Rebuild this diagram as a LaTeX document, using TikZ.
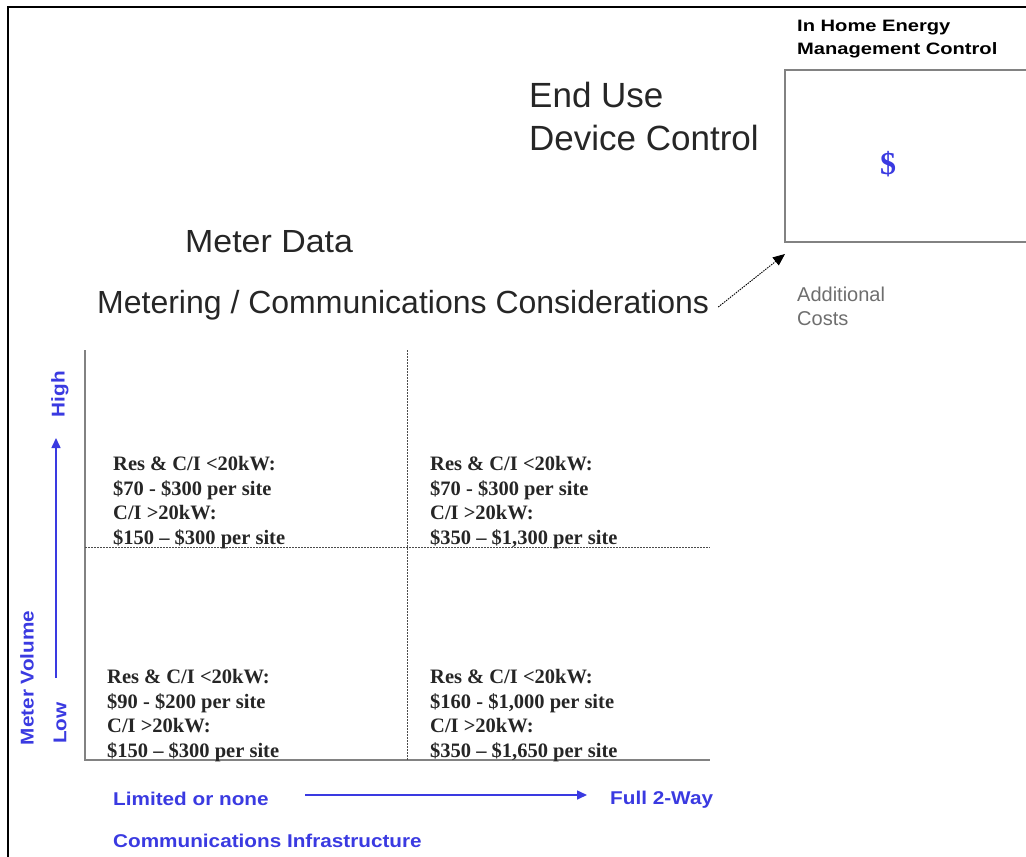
\documentclass[tikz,border=0pt]{standalone}
\usepackage{fontspec}
\setmainfont{Liberation Sans}
\newfontfamily\cellfont[Ligatures=TeX]{Liberation Serif}
\usetikzlibrary{arrows.meta,calc}
\definecolor{axisblue}{RGB}{58,58,225}
\definecolor{gridgray}{RGB}{130,130,130}
\definecolor{notegray}{RGB}{110,110,110}
\newcommand{\stretchfont}[1]{\addfontfeatures{FakeStretch=#1}}
\tikzset{
  x=1pt, y=-1pt,
  cell/.style={anchor=north west, align=left, inner sep=0pt, font=\cellfont\bfseries\fontsize{20.5}{24.6}\selectfont, text=black!85},
  axislabel/.style={inner sep=0pt, text=axisblue, font=\bfseries\fontsize{18.5}{20}\selectfont\stretchfont{1.12}},
  heading/.style={inner sep=0pt, anchor=base west, text=black!85},
  solidgrid/.style={draw=gridgray, line width=1.6pt},
  dotgrid/.style={draw=black!70, line width=0.9pt, dash pattern=on 1.5pt off 1.5pt},
}
\begin{document}
\begin{tikzpicture}
\useasboundingbox (0,0) rectangle (1026,857);
% page frame
\draw[line width=1.6pt] (8,857) -- (8,7) -- (1026,7);

% in-home control panel
\node[inner sep=0pt, anchor=north west, align=left, font=\bfseries\fontsize{16.5}{23}\selectfont\stretchfont{1.22}] (ihtitle) at (797,20) {In Home Energy\\Management Control};
\draw[draw=gridgray, line width=1.4pt] (1030,70) -- (785,70) -- (785,242) -- (1030,242);
\coordinate (boxcorner) at (785,254);
\node[inner sep=0pt, text=axisblue, font=\cellfont\bfseries\fontsize{32}{34}\selectfont] (cost) at (888,164) {\$};
\node[inner sep=0pt, anchor=north west, align=left, text=notegray, font=\fontsize{20}{23.5}\selectfont] (addl) at (797,287) {Additional\\Costs};

% headings
\node[inner sep=0pt, anchor=north west, align=left, text=black!85, font=\fontsize{35}{43}\selectfont] (enduse) at (529,82) {End Use\\Device Control};
\node[heading, font=\fontsize{32}{34}\selectfont\stretchfont{1.06}] (meterdata) at (185,252) {Meter Data};
\node[heading, font=\fontsize{32}{34}\selectfont] (mcc) at (97,313) {Metering / Communications Considerations};
\coordinate (arrstart) at ($(mcc.base east)+(9,-6)$);
\draw[line width=0.9pt, dash pattern=on 1.5pt off 1pt, -{Triangle[length=12pt,width=10pt]}] (arrstart) -- (boxcorner);

% quadrant grid
\coordinate (gtl) at (85,350);
\coordinate (gbl) at (85,760);
\coordinate (gbr) at (710,760);
\draw[solidgrid] (gtl) -- (gbl) -- (gbr);
\draw[dotgrid] (407,350) -- (407,760);
\draw[dotgrid] (85,547) -- (710,547);

% cost figures per quadrant
\node[cell] (q1) at (113,456) {Res \& C/I <20kW:\\\$70 - \$300 per site\\C/I >20kW:\\\$150 -- \$300 per site};
\node[cell] (q2) at (430,456) {Res \& C/I <20kW:\\\$70 - \$300 per site\\C/I >20kW:\\\$350 -- \$1,300 per site};
\node[cell] (q3) at (107,669) {Res \& C/I <20kW:\\\$90 - \$200 per site\\C/I >20kW:\\\$150 -- \$300 per site};
\node[cell] (q4) at (430,669) {Res \& C/I <20kW:\\\$160 - \$1,000 per site\\C/I >20kW:\\\$350 -- \$1,650 per site};

% vertical axis
\node[axislabel, rotate=90] (high) at (60,394) {High};
\node[axislabel, rotate=90] (low) at (60,723) {Low};
\node[axislabel, rotate=90] (volume) at (27,678) {Meter Volume};
\coordinate (vstart) at (56,678);
\coordinate (vend) at (56,438);
\draw[axisblue, line width=1.6pt, -{Triangle[length=10pt,width=9pt]}] (vstart) -- (vend);

% horizontal axis
\node[axislabel, anchor=base west] (limited) at (113,805) {Limited or none};
\node[axislabel, anchor=base west] (full) at (610,804) {Full 2-Way};
\node[axislabel, anchor=base west] (infra) at (113,847) {Communications Infrastructure};
\coordinate (hstart) at (305,795);
\coordinate (hend) at (587,795);
\draw[axisblue, line width=1.6pt, -{Triangle[length=10pt,width=9pt]}] (hstart) -- (hend);
\end{tikzpicture}
\end{document}
